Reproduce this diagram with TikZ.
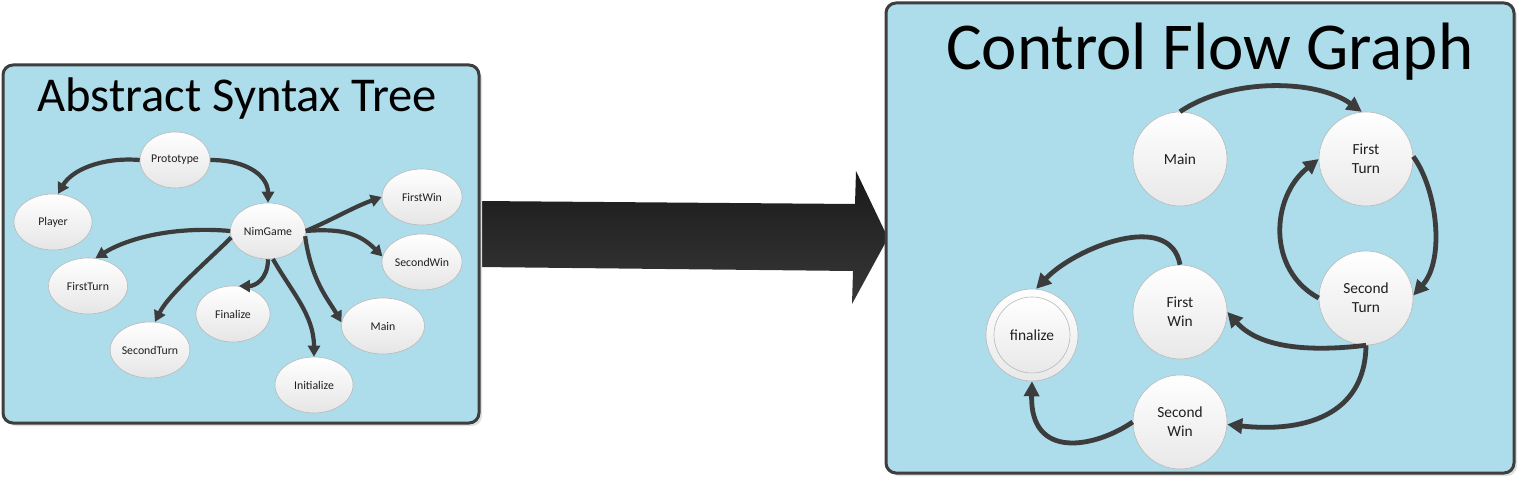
\documentclass[tikz,border=0pt]{standalone}
\usepackage{fontspec}
\setmainfont{Carlito}
\usetikzlibrary{shapes.geometric,arrows.meta}
\definecolor{boxblue}{RGB}{173,220,235}
\definecolor{edgegray}{RGB}{60,60,60}
\definecolor{boxline}{RGB}{62,62,62}
\begin{document}
\begin{tikzpicture}[x=1pt,y=-1pt,
  astnode/.style={ellipse, draw=gray!55, line width=0.6pt, top color=white, bottom color=gray!20,
    minimum width=76pt, minimum height=56pt, inner sep=0pt, text=black!88,
    font=\fontsize{11.8}{13}\selectfont},
  cfgnode/.style={circle, draw=gray!55, line width=0.6pt, top color=white, bottom color=gray!18,
    minimum size=94pt, inner sep=0pt, align=center, text=black!88,
    font=\fontsize{15.4}{18.7}\selectfont},
  astedge/.style={draw=edgegray, line width=4.2pt, -{Triangle[length=11pt,width=12pt]}},
  cfgedge/.style={draw=edgegray, line width=4.8pt, -{Triangle[length=15pt,width=15pt]}},
  panel/.style={draw=boxline, line width=3pt, fill=boxblue, rounded corners=10pt},
  panelshadow/.style={fill=gray!25, rounded corners=10pt},
  title/.style={anchor=base west, inner sep=0pt, text=black}
]
\useasboundingbox (0,0) rectangle (1519,478);

% big transition arrow
\shade[top color=black!90, bottom color=black!78]
  (478,201) -- (855,204) -- (856,171) -- (888,238) -- (852,304) -- (853,271) -- (478,267) -- cycle;

% panels
\fill[panelshadow] (6,68) rectangle (482,426);
\draw[panel] (3,65) rectangle (479,423);
\fill[panelshadow] (889,6) rectangle (1517,476);
\draw[panel] (886,3) rectangle (1514,473);

% titles
\node[title, font=\fontsize{48.6}{50}\selectfont] (asttitle) at (37,112) {Abstract Syntax Tree};
\node[title, font=\fontsize{67}{70}\selectfont] (cfgtitle) at (946,70) {Control Flow Graph};

% AST nodes
\node[astnode, minimum width=70pt] (proto) at (175,160) {Prototype};
\node[astnode, minimum width=78pt] (player) at (53,222) {Player};
\node[astnode, minimum width=75pt] (nim) at (268,231) {NimGame};
\node[astnode, minimum width=80pt] (fwin) at (422,197) {FirstWin};
\node[astnode, minimum width=80pt] (swin) at (422,262) {SecondWin};
\node[astnode, minimum width=79pt] (fturn) at (88,286) {FirstTurn};
\node[astnode, minimum width=74pt] (fin) at (233,314) {Finalize};
\node[astnode, minimum width=83pt] (amain) at (383,326) {Main};
\node[astnode, minimum width=73pt] (sturn) at (150,350) {SecondTurn};
\node[astnode, minimum width=78pt] (init) at (314,385) {Initialize};

% AST edges
\draw[astedge] (proto.west) .. controls +(-38,-3) and +(14,-24) .. (player.80);
\draw[astedge] (proto.east) .. controls +(38,0) and +(0,-26) .. (nim.north);
\draw[astedge] (nim.east) .. controls +(28,-12) and +(-28,10) .. (fwin.west);
\draw[astedge] (nim.east) .. controls +(38,-3) and +(-22,-22) .. (swin.172);
\draw[astedge] (nim.-8) .. controls +(6,44) and +(-14,-24) .. (amain.175);
\draw[astedge] (nim.west) .. controls +(-56,-5) and +(32,-20) .. (fturn.75);
\draw[astedge] (nim.190) .. controls +(-22,22) and +(14,-28) .. (sturn.80);
\draw[astedge] (nim.south) .. controls +(0,20) and +(16,0) .. (fin.78);
\draw[astedge] (nim.-80) .. controls +(18,32) and +(0,-42) .. (init.north);

% CFG nodes
\node[cfgnode] (cmain) at (1180,159) {Main};
\node[cfgnode] (cft) at (1366,159) {First\\Turn};
\node[cfgnode] (cst) at (1366,298) {Second\\Turn};
\node[cfgnode] (cfw) at (1180,312) {First\\Win};
\node[cfgnode] (csw) at (1180,422) {Second\\Win};
\node[cfgnode, minimum size=92pt] (cfin) at (1032,335) {};
\node[cfgnode, minimum size=76pt] (cfinin) at (cfin.center) {finalize};

% CFG edges
\draw[cfgedge] (cmain.north) .. controls +(52,-35) and +(-44,-32) .. (cft.95);
\draw[cfgedge] (cft.3) .. controls +(24,33) and +(32,-36) .. (cst.3);
\draw[cfgedge] (cst.west) .. controls +(-52,-28) and +(-48,38) .. (cft.west);
\draw[cfgedge] (cst.south) .. controls +(-50,6) and +(34,38) .. (cfw.east);
\draw[cfgedge] (cst.south) .. controls +(-1,72) and +(74,8) .. (csw.-3);
\draw[cfgedge] (cfw.north) .. controls +(-10,-55) and +(39,-41) .. (cfin.85);
\draw[cfgedge] (csw.west) .. controls +(-38,26) and +(-2,79) .. (cfin.south);
\end{tikzpicture}
\end{document}
